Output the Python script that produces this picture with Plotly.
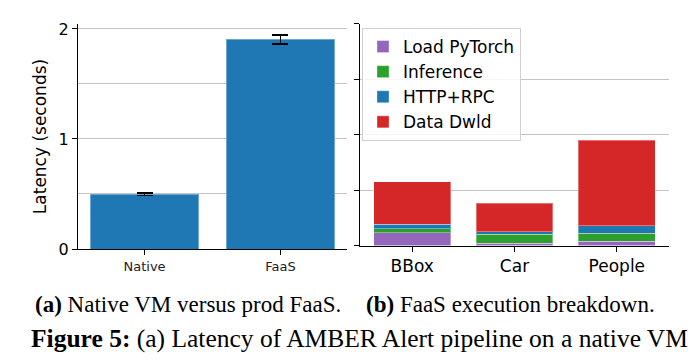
import plotly.graph_objects as go

# ---- data ----
vm_categories = ["Native", "FaaS"]
vm_latency = [0.497, 1.905]
vm_error = [0.011, 0.04]

faas_categories = ["BBox", "Car", "People"]
load_pytorch = [0.114, 0.022, 0.040]
inference = [0.036, 0.081, 0.072]
http_rpc = [0.042, 0.022, 0.066]
data_dwld = [0.384, 0.255, 0.770]

left_yticks = [0, 1, 2]
left_yticklabels = ["0", "1", "2"]

BLUE = "#1f77b4"
GREEN = "#2ca02c"
RED = "#d62728"
PURPLE = "#9467bd"
GRID = "#c4c4c4"
FONT = "DejaVu Sans"
SERIF = "Liberation Serif"

W, H = 698, 360

fig = go.Figure()

fig.add_trace(go.Bar(
    x=vm_categories, y=vm_latency, width=0.8,
    marker=dict(color=BLUE, line=dict(color="rgba(255,255,255,0.35)", width=1)),
    error_y=dict(type="data", array=vm_error, color="black", thickness=1.6, width=8),
    xaxis="x", yaxis="y", showlegend=False,
))

for name, vals, col in [("Load PyTorch", load_pytorch, PURPLE),
                        ("Inference", inference, GREEN),
                        ("HTTP+RPC", http_rpc, BLUE),
                        ("Data Dwld", data_dwld, RED)]:
    fig.add_trace(go.Bar(
        x=faas_categories, y=vals, name=name, width=0.75,
        marker=dict(color=col, line=dict(color="rgba(255,255,255,0.35)", width=1)),
        xaxis="x2", yaxis="y2",
    ))

def px_x(p):
    return p / W

def px_y(p):
    return 1 - p / H

axis_common = dict(showline=True, linecolor="black", linewidth=1.2,
                   ticks="outside", tickcolor="black", ticklen=5, tickwidth=1.2,
                   zeroline=False, automargin=False)

fig.update_layout(
    width=W, height=H,
    margin=dict(l=0, r=0, t=0, b=0, autoexpand=False),
    paper_bgcolor="white", plot_bgcolor="white",
    barmode="stack", bargap=0.2,
    font=dict(family=FONT, color="black"),
    xaxis=dict(domain=[px_x(78), px_x(347)], range=[-0.49, 1.49],
               tickfont=dict(size=13, color="#222"), showgrid=False, anchor="y",
               **axis_common),
    yaxis=dict(domain=[px_y(249), px_y(24)], range=[0, 2.045],
               tickvals=left_yticks, ticktext=left_yticklabels,
               tickfont=dict(size=16), showgrid=True, gridcolor=GRID, gridwidth=1,
               minor=dict(dtick=0.5, showgrid=True, gridcolor=GRID, gridwidth=1, ticks=""),
               title=dict(text="Latency (seconds)", font=dict(size=17), standoff=7),
               anchor="x", **axis_common),
    xaxis2=dict(domain=[px_x(360), px_x(669)], range=[-0.51, 2.51],
                tickfont=dict(size=17), showgrid=False, anchor="y2",
                **axis_common),
    yaxis2=dict(domain=[px_y(245.5), px_y(23.5)], range=[0, 2.0],
                dtick=0.5, showticklabels=False, showgrid=True,
                gridcolor=GRID, gridwidth=1, anchor="x2", **axis_common),
    legend=dict(x=px_x(362), y=px_y(28), xanchor="left", yanchor="top",
                bgcolor="rgba(255,255,255,0.85)", bordercolor="#d0d0d0", borderwidth=1,
                font=dict(size=17), traceorder="normal", itemwidth=30,
                tracegroupgap=0),
)

fig.add_annotation(text="<b>(a)</b> Native VM versus prod FaaS.", xref="paper", yref="paper",
                   x=px_x(188), y=px_y(304), xanchor="center", yanchor="middle",
                   showarrow=False, font=dict(family=SERIF, size=23, color="black"))
fig.add_annotation(text="<b>(b)</b> FaaS execution breakdown.", xref="paper", yref="paper",
                   x=px_x(510), y=px_y(304), xanchor="center", yanchor="middle",
                   showarrow=False, font=dict(family=SERIF, size=23, color="black"))
fig.add_annotation(text="<b>Figure 5:</b> (a) Latency of AMBER Alert pipeline on a native VM",
                   xref="paper", yref="paper",
                   x=px_x(359), y=px_y(338), xanchor="center", yanchor="middle",
                   showarrow=False, font=dict(family=SERIF, size=25.5, color="black"))

fig.write_html("out.html", config={"displayModeBar": False},
               post_script="document.body.style.margin='0px';document.body.style.overflow='hidden';")
